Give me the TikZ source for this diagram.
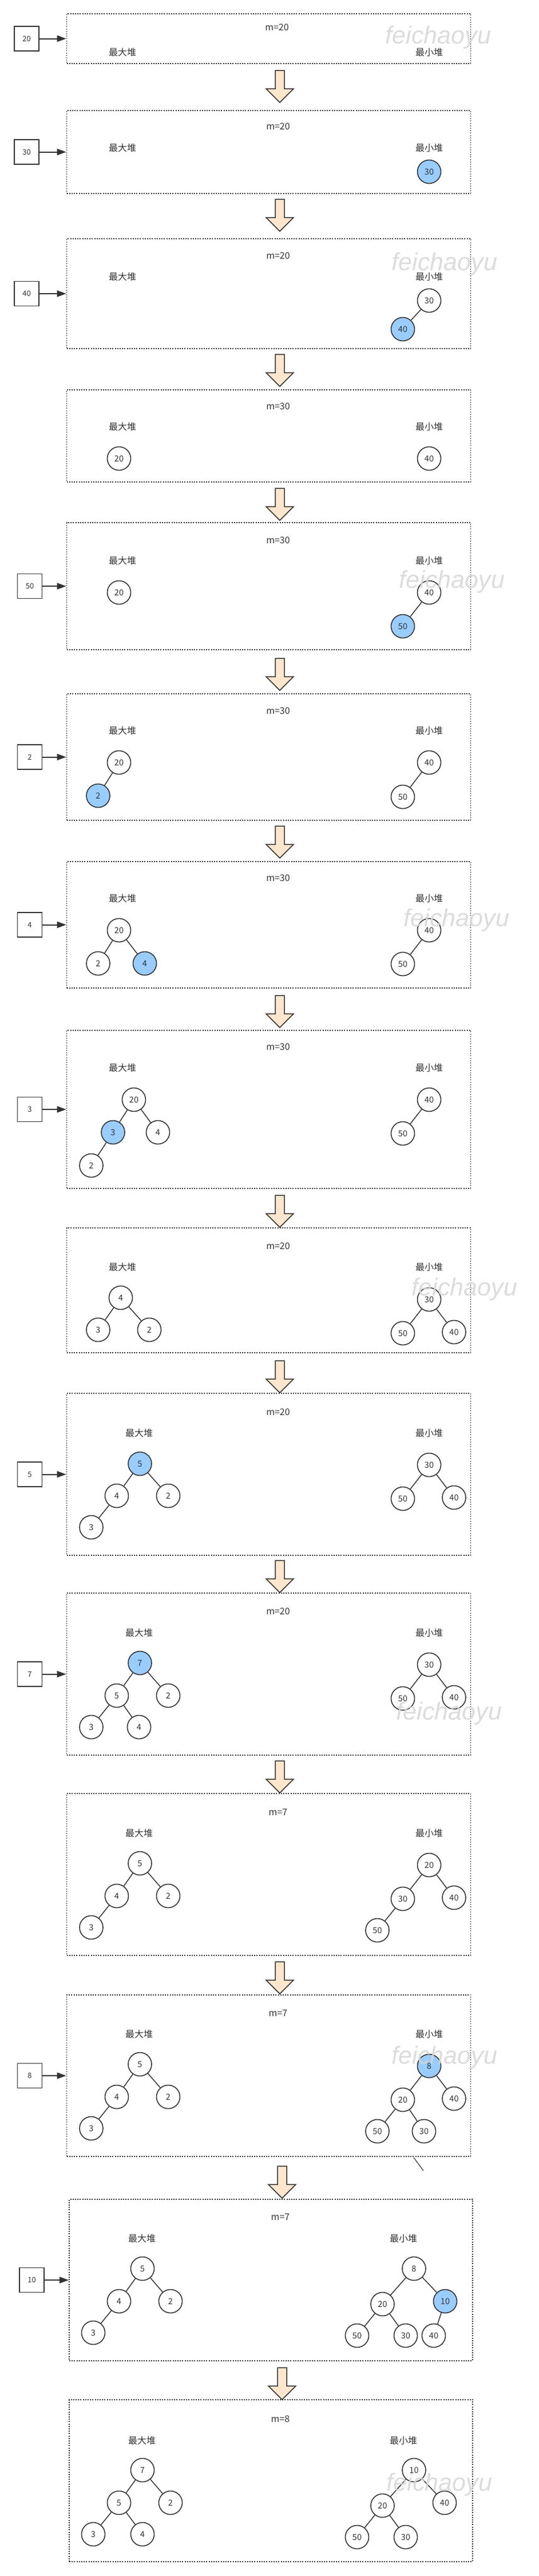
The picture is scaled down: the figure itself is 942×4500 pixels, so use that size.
\documentclass[tikz,border=0pt]{standalone}
\usepackage{fontspec}
\setmainfont{Noto Sans CJK SC}
\newfontfamily\wmfont{Liberation Sans}
\usetikzlibrary{arrows.meta}
\definecolor{ink}{HTML}{333333}
\definecolor{hblue}{HTML}{99CCFF}
\definecolor{peach}{HTML}{FFE6CC}
\definecolor{wmcol}{HTML}{D6D6D6}
\newcommand\fhead[7]{%
  \node[lbl] (m#1) at (#2,#3) {#4};
  \node[lbl] (L#1) at (#5,#7) {最大堆};
  \node[lbl] (R#1) at (#6,#7) {最小堆};}
\newcommand\blkarrow[2]{%
  \draw[blk] ({#1-8},#2) -- ({#1+8},#2) -- ({#1+8},{#2+32}) -- ({#1+24},{#2+32}) -- (#1,{#2+56}) -- ({#1-24},{#2+32}) -- ({#1-8},{#2+32}) -- cycle;}
\newcommand\feedin[4]{%
  \node[inbox] (in#1) at (#2,#3) {#4};
  \draw[feed] (in#1) -- (in#1 -| F#1.west);}
\begin{document}
\begin{tikzpicture}[x=1pt,y=-1pt,
  frame/.style={draw=ink, line width=1.7pt, dash pattern=on 2pt off 2.2pt, rectangle, inner sep=0pt},
  hn/.style={circle, draw=ink, line width=1.6pt, fill=white, minimum size=41pt, inner sep=0pt, font=\fontsize{14.5}{16}\selectfont, text=ink},
  hl/.style={fill=hblue},
  inbox/.style={rectangle, draw=ink, line width=1.8pt, fill=white, minimum size=43pt, inner sep=0pt, font=\fontsize{13}{15}\selectfont, text=ink},
  feed/.style={draw=ink, line width=2pt, -{Triangle[length=16pt,width=11pt]}},
  edge/.style={draw=ink, line width=1.5pt},
  lbl/.style={text=ink, font=\fontsize{16}{18}\selectfont, inner sep=0pt},
  blk/.style={draw=ink, fill=peach, line width=1.5pt, line join=miter},
  wmk/.style={text=wmcol, font=\wmfont\itshape\fontsize{43}{45}\selectfont, opacity=0.85, inner sep=0pt},
]
\fill[white] (0,0) rectangle (942,4500);
\useasboundingbox (0,0) rectangle (942,4500);

% ---------- frames ----------
\node[frame, minimum width=706pt, minimum height=87pt]  (F1)  at (469.5,67.5) {};
\node[frame, minimum width=706pt, minimum height=145pt] (F2)  at (469.5,265.5) {};
\node[frame, minimum width=706pt, minimum height=192pt] (F3)  at (469.5,513) {};
\node[frame, minimum width=706pt, minimum height=161pt] (F4)  at (469.5,761.5) {};
\node[frame, minimum width=706pt, minimum height=222pt] (F5)  at (469.5,1024) {};
\node[frame, minimum width=706pt, minimum height=221pt] (F6)  at (469.5,1322.5) {};
\node[frame, minimum width=706pt, minimum height=221pt] (F7)  at (469.5,1615.5) {};
\node[frame, minimum width=706pt, minimum height=276pt] (F8)  at (469.5,1938) {};
\node[frame, minimum width=706pt, minimum height=218pt] (F9)  at (469.5,2254) {};
\node[frame, minimum width=706pt, minimum height=283pt] (F10) at (469.5,2575.5) {};
\node[frame, minimum width=706pt, minimum height=283pt] (F11) at (469.5,2924.5) {};
\node[frame, minimum width=706pt, minimum height=283pt] (F12) at (469.5,3274.5) {};
\node[frame, minimum width=706pt, minimum height=282pt] (F13) at (469.5,3626) {};
\node[frame, minimum width=705pt, minimum height=282pt] (F14) at (473.5,3983) {};
\node[frame, minimum width=705pt, minimum height=283pt] (F15) at (473.5,4333.5) {};

% ---------- block arrows ----------
\blkarrow{489}{123}
\blkarrow{489}{348}
\blkarrow{489}{619}
\blkarrow{489}{853}
\blkarrow{489}{1150}
\blkarrow{489}{1443}
\blkarrow{489}{1739}
\blkarrow{489}{2088}
\blkarrow{489}{2377}
\blkarrow{489}{2726}
\blkarrow{489}{3076}
\blkarrow{489}{3427}
\blkarrow{493}{3784}
\blkarrow{493}{4136}

% ---------- headings ----------
\fhead{1}{484}{48}{m=20}{214}{750}{91}
\fhead{2}{486}{221}{m=20}{214}{750}{258}
\fhead{3}{486}{447}{m=20}{214}{750}{483}
\fhead{4}{486}{710}{m=30}{214}{750}{745}
\fhead{5}{486}{944}{m=30}{214}{750}{979}
\fhead{6}{486}{1242}{m=30}{214}{750}{1276}
\fhead{7}{486}{1534}{m=30}{214}{750}{1569}
\fhead{8}{486}{1829}{m=30}{214}{750}{1865}
\fhead{9}{486}{2177}{m=20}{214}{750}{2213}
\fhead{10}{486}{2467}{m=20}{243}{750}{2503}
\fhead{11}{486}{2815}{m=20}{243}{750}{2852}
\fhead{12}{486}{3166}{m=7}{243}{750}{3202}
\fhead{13}{486}{3517}{m=7}{243}{750}{3553}
\fhead{14}{490}{3873}{m=7}{248}{705}{3910}
\fhead{15}{490}{4226}{m=8}{248}{705}{4263}

% ---------- incoming values ----------
\feedin{1}{46.5}{67.5}{20}
\feedin{2}{46.5}{265.5}{30}
\feedin{3}{46.5}{513}{40}
\feedin{5}{52}{1024}{50}
\feedin{6}{52}{1322.5}{2}
\feedin{7}{52}{1615.5}{4}
\feedin{8}{52}{1938}{3}
\feedin{10}{52}{2575.5}{5}
\feedin{11}{52}{2924.5}{7}
\feedin{13}{52}{3626}{8}
\feedin{14}{55.5}{3983}{10}

% ---------- frame 2 ----------
\node[hn,hl] (n2a) at (750,300) {30};
% ---------- frame 3 ----------
\node[hn] (n3a) at (750,525) {30};
\node[hn,hl] (n3b) at (704,575) {40};
\draw[edge] (n3a) -- (n3b);
% ---------- frame 4 ----------
\node[hn] (n4a) at (208,801) {20};
\node[hn] (n4b) at (750,801) {40};
% ---------- frame 5 ----------
\node[hn] (n5a) at (208,1035) {20};
\node[hn] (n5b) at (750,1035) {40};
\node[hn,hl] (n5c) at (704,1094) {50};
\draw[edge] (n5b) -- (n5c);
% ---------- frame 6 ----------
\node[hn] (n6a) at (208,1332) {20};
\node[hn,hl] (n6b) at (171.5,1390) {2};
\node[hn] (n6c) at (750,1332) {40};
\node[hn] (n6d) at (704,1392) {50};
\draw[edge] (n6a) -- (n6b) (n6c) -- (n6d);
% ---------- frame 7 ----------
\node[hn] (n7a) at (208,1625) {20};
\node[hn] (n7b) at (171.5,1683) {2};
\node[hn,hl] (n7c) at (253,1683) {4};
\node[hn] (n7d) at (750,1625) {40};
\node[hn] (n7e) at (704,1684) {50};
\draw[edge] (n7a) -- (n7b) (n7a) -- (n7c) (n7d) -- (n7e);
% ---------- frame 8 ----------
\node[hn] (n8a) at (234,1921) {20};
\node[hn,hl] (n8b) at (197.5,1978) {3};
\node[hn] (n8c) at (276,1978) {4};
\node[hn] (n8d) at (159.5,2036) {2};
\node[hn] (n8e) at (750,1921) {40};
\node[hn] (n8f) at (704,1980) {50};
\draw[edge] (n8a) -- (n8b) (n8a) -- (n8c) (n8b) -- (n8d) (n8e) -- (n8f);
% ---------- frame 9 ----------
\node[hn] (n9a) at (211,2267) {4};
\node[hn] (n9b) at (171.5,2323) {3};
\node[hn] (n9c) at (261,2323) {2};
\node[hn] (n9d) at (750,2270) {30};
\node[hn] (n9e) at (704,2329) {50};
\node[hn] (n9f) at (793.5,2327) {40};
\draw[edge] (n9a) -- (n9b) (n9a) -- (n9c) (n9d) -- (n9e) (n9d) -- (n9f);
% ---------- frame 10 ----------
\node[hn,hl] (n10a) at (244.5,2557) {5};
\node[hn] (n10b) at (204,2613) {4};
\node[hn] (n10c) at (294,2613) {2};
\node[hn] (n10d) at (159.5,2668) {3};
\node[hn] (n10e) at (750,2559) {30};
\node[hn] (n10f) at (704,2618) {50};
\node[hn] (n10g) at (793.5,2616) {40};
\draw[edge] (n10a) -- (n10b) (n10a) -- (n10c) (n10b) -- (n10d) (n10e) -- (n10f) (n10e) -- (n10g);
% ---------- frame 11 ----------
\node[hn,hl] (n11a) at (244.5,2905) {7};
\node[hn] (n11b) at (204,2962) {5};
\node[hn] (n11c) at (294,2962) {2};
\node[hn] (n11d) at (159.5,3017) {3};
\node[hn] (n11e) at (243,3017) {4};
\node[hn] (n11f) at (750,2908) {30};
\node[hn] (n11g) at (704,2967) {50};
\node[hn] (n11h) at (793.5,2965) {40};
\draw[edge] (n11a) -- (n11b) (n11a) -- (n11c) (n11b) -- (n11d) (n11b) -- (n11e) (n11f) -- (n11g) (n11f) -- (n11h);
% ---------- frame 12 ----------
\node[hn] (n12a) at (244.5,3255) {5};
\node[hn] (n12b) at (204,3312) {4};
\node[hn] (n12c) at (294,3312) {2};
\node[hn] (n12d) at (159.5,3367) {3};
\node[hn] (n12e) at (750,3258) {20};
\node[hn] (n12f) at (704,3317) {30};
\node[hn] (n12g) at (793.5,3315) {40};
\node[hn] (n12h) at (659.5,3372) {50};
\draw[edge] (n12a) -- (n12b) (n12a) -- (n12c) (n12b) -- (n12d) (n12e) -- (n12f) (n12e) -- (n12g) (n12f) -- (n12h);
% ---------- frame 13 ----------
\node[hn] (n13a) at (244.5,3606) {5};
\node[hn] (n13b) at (204,3663) {4};
\node[hn] (n13c) at (294,3663) {2};
\node[hn] (n13d) at (159.5,3718) {3};
\node[hn,hl] (n13e) at (750,3609) {8};
\node[hn] (n13f) at (704,3668) {20};
\node[hn] (n13g) at (793.5,3666) {40};
\node[hn] (n13h) at (659.5,3723) {50};
\node[hn] (n13i) at (741,3723) {30};
\draw[edge] (n13a) -- (n13b) (n13a) -- (n13c) (n13b) -- (n13d) (n13e) -- (n13f) (n13e) -- (n13g) (n13f) -- (n13h) (n13f) -- (n13i);
\coordinate (s1) at (723,3769);
\coordinate (s2) at (740,3792);
\draw[edge, line width=1.2pt] (s1) -- (s2);
% ---------- frame 14 ----------
\node[hn] (n14a) at (249,3963) {5};
\node[hn] (n14b) at (208,4020) {4};
\node[hn] (n14c) at (298,4020) {2};
\node[hn] (n14d) at (163,4075) {3};
\node[hn] (n14e) at (723.5,3963) {8};
\node[hn] (n14f) at (668.5,4025) {20};
\node[hn,hl] (n14g) at (778,4020) {10};
\node[hn] (n14h) at (624,4080) {50};
\node[hn] (n14i) at (709,4080) {30};
\node[hn] (n14j) at (758,4080) {40};
\draw[edge] (n14a) -- (n14b) (n14a) -- (n14c) (n14b) -- (n14d) (n14e) -- (n14f) (n14e) -- (n14g) (n14f) -- (n14h) (n14f) -- (n14i) (n14g) -- (n14j);
% ---------- frame 15 ----------
\node[hn] (n15a) at (249,4315) {7};
\node[hn] (n15b) at (208,4372) {5};
\node[hn] (n15c) at (298,4372) {2};
\node[hn] (n15d) at (163,4427) {3};
\node[hn] (n15e) at (249,4427) {4};
\node[hn] (n15f) at (723.5,4315) {10};
\node[hn] (n15g) at (668.5,4377) {20};
\node[hn] (n15h) at (777,4372) {40};
\node[hn] (n15i) at (624,4432) {50};
\node[hn] (n15j) at (709,4432) {30};
\draw[edge] (n15a) -- (n15b) (n15a) -- (n15c) (n15b) -- (n15d) (n15b) -- (n15e) (n15f) -- (n15g) (n15f) -- (n15h) (n15g) -- (n15i) (n15g) -- (n15j);

% ---------- watermarks ----------
\node[wmk] (w1)  at (766,65)   {feichaoyu};
\node[wmk] (w3)  at (777,461)  {feichaoyu};
\node[wmk] (w5)  at (790,1016) {feichaoyu};
\node[wmk] (w7)  at (798,1607) {feichaoyu};
\node[wmk] (w9)  at (812,2252) {feichaoyu};
\node[wmk] (w11) at (785,2993) {feichaoyu};
\node[wmk] (w13) at (777,3594) {feichaoyu};
\node[wmk] (w15) at (768,4340) {feichaoyu};
\end{tikzpicture}
\end{document}
